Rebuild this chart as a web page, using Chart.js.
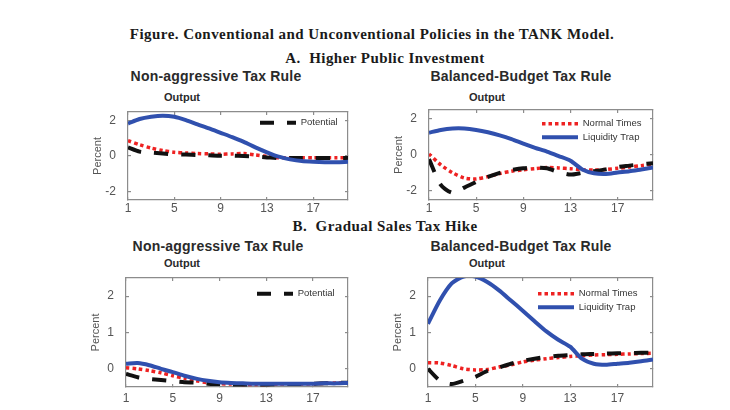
<!DOCTYPE html>
<html>
<head>
<meta charset="utf-8">
<script src="https://cdn.jsdelivr.net/npm/chart.js@4.4.0/dist/chart.umd.min.js"></script>
<style>
  html, body { margin: 0; padding: 0; background: #fff; }
  body { width: 730px; height: 410px; position: relative; overflow: hidden; }
  .t { position: absolute; transform: translate(-50%, -50%); white-space: nowrap; color: #1a1a1a; }
  .fig { font: bold 15px "Liberation Serif", serif; letter-spacing: 0.45px; }
  .sec { font: bold 15px "Liberation Serif", serif; letter-spacing: 0.45px; }
  .pt { font: bold 14px "Liberation Sans", Arial, sans-serif; color: #2a2a2a; letter-spacing: 0.2px; }
  .out { font: bold 11px "Liberation Sans", Arial, sans-serif; color: #2a2a2a; }
  .box { position: absolute; }
</style>
</head>
<body>
<div class="t fig" style="left:372px;top:34px">Figure. Conventional and Unconventional Policies in the TANK Model.</div>
<div class="t sec" style="left:385px;top:58px">A.&nbsp; Higher Public Investment</div>
<div class="t sec" style="left:385px;top:226px">B.&nbsp; Gradual Sales Tax Hike</div>

<div class="t pt" style="left:216px;top:76px">Non-aggressive Tax Rule</div>
<div class="t out" style="left:182px;top:97px">Output</div>
<div class="t pt" style="left:521px;top:76px">Balanced-Budget Tax Rule</div>
<div class="t out" style="left:487px;top:97px">Output</div>
<div class="t pt" style="left:218px;top:246px">Non-aggressive Tax Rule</div>
<div class="t out" style="left:182px;top:263px">Output</div>
<div class="t pt" style="left:521px;top:246px">Balanced-Budget Tax Rule</div>
<div class="t out" style="left:487px;top:263px">Output</div>

<div class="box" style="left:88px;top:108px;width:264px;height:114px"><canvas id="c1"></canvas></div>
<div class="box" style="left:389px;top:106px;width:268px;height:116px"><canvas id="c2"></canvas></div>
<div class="box" style="left:86px;top:274px;width:266px;height:135px"><canvas id="c3"></canvas></div>
<div class="box" style="left:388px;top:274px;width:269px;height:135px"><canvas id="c4"></canvas></div>

<script>
// quarters and ticks
const quarters = [1, 2, 3, 4, 5, 6, 7, 8, 9, 10, 11, 12, 13, 14, 15, 16, 17, 18, 19, 20];
const xTicks = [1, 5, 9, 13, 17];
const yTicksA = [-2, 0, 2];
const yTicksB = [0, 1, 2];

// A. Higher public investment, non-aggressive tax rule
const invNonTrap = [1.84, 2.1, 2.23, 2.29, 2.23, 2.04, 1.8, 1.57, 1.32, 1.07, 0.8, 0.49, 0.21, -0.04, -0.19, -0.29, -0.33, -0.35, -0.35, -0.33];
const invNonNormal = [0.87, 0.64, 0.45, 0.31, 0.21, 0.17, 0.14, 0.12, 0.1, 0.12, 0.14, 0.06, -0.02, -0.1, -0.1, -0.1, -0.1, -0.1, -0.1, -0.1];
const invNonPotential = [0.49, 0.25, 0.19, 0.14, 0.1, 0.08, 0.06, 0.04, 0.02, 0.02, 0, -0.04, -0.08, -0.12, -0.12, -0.12, -0.12, -0.12, -0.12, -0.12];

// A. Higher public investment, balanced-budget tax rule
const invBalTrap = [1.24, 1.39, 1.47, 1.47, 1.39, 1.26, 1.09, 0.88, 0.63, 0.4, 0.19, -0.06, -0.32, -0.8, -1.01, -1.05, -0.97, -0.9, -0.8, -0.7];
const invBalNormal = [0.06, -0.55, -0.99, -1.28, -1.33, -1.2, -1.03, -0.9, -0.82, -0.76, -0.7, -0.72, -0.76, -0.82, -0.84, -0.8, -0.74, -0.67, -0.59, -0.51];
const invBalPotential = [-0.23, -1.66, -2.1, -1.81, -1.5, -1.22, -0.99, -0.84, -0.74, -0.7, -0.74, -0.95, -1.09, -0.99, -0.9, -0.8, -0.67, -0.59, -0.51, -0.46];

// B. Gradual sales tax hike, non-aggressive tax rule
const taxNonTrap = [0.14, 0.16, 0.1, 0.0, -0.09, -0.19, -0.27, -0.33, -0.37, -0.39, -0.4, -0.41, -0.41, -0.41, -0.41, -0.41, -0.41, -0.4, -0.4, -0.39];
const taxNonNormal = [0.03, 0.0, -0.05, -0.11, -0.19, -0.26, -0.33, -0.38, -0.41, -0.42, -0.43, -0.43, -0.43, -0.42, -0.42, -0.42, -0.41, -0.4, -0.39, -0.38];
const taxNonPotential = [-0.14, -0.23, -0.28, -0.31, -0.34, -0.37, -0.38, -0.41, -0.42, -0.43, -0.43, -0.43, -0.43, -0.42, -0.42, -0.42, -0.41, -0.4, -0.39, -0.38];

// B. Gradual sales tax hike, balanced-budget tax rule
const taxBalTrap = [1.24, 1.88, 2.35, 2.54, 2.54, 2.39, 2.16, 1.88, 1.6, 1.31, 1.03, 0.8, 0.61, 0.28, 0.14, 0.11, 0.14, 0.17, 0.21, 0.26];
const taxBalNormal = [0.17, 0.16, 0.09, 0.0, -0.03, -0.02, 0.05, 0.11, 0.19, 0.24, 0.28, 0.31, 0.34, 0.36, 0.38, 0.39, 0.4, 0.41, 0.42, 0.43];
const taxBalPotential = [0.0, -0.32, -0.42, -0.33, -0.22, -0.06, 0.04, 0.14, 0.22, 0.28, 0.33, 0.36, 0.38, 0.4, 0.41, 0.42, 0.43, 0.43, 0.44, 0.44];

const RED = '#ee2222';
const BLUE = '#3050ae';
const BLACK = '#111111';
const FRAME = '#8c8c8c';

Chart.defaults.font.family = '"Liberation Sans", Arial, sans-serif';
Chart.defaults.color = '#555';

function series(vals) {
  return quarters.map((q, i) => ({ x: q, y: vals[i] }));
}

// move the legend to the upper right of the plot
const legendSpot = {
  id: 'legendSpot',
  beforeDraw(chart, args, opts) {
    const lg = chart.legend;
    if (!lg) return;
    lg.left = chart.chartArea.right - opts.dx;
    lg.top = chart.chartArea.top + opts.dy;
  }
};

function legendLabels(chart) {
  const items = Chart.defaults.plugins.legend.labels.generateLabels(chart);
  return items.map(it => {
    const ds = chart.data.datasets[it.datasetIndex];
    it.lineDash = ds.borderDash || [];
    it.lineWidth = ds.borderWidth;
    it.strokeStyle = ds.borderColor;
    it.lineCap = 'butt';
    return it;
  });
}

// axis with a gray border line and short inward tick marks
function boxAxis(extra) {
  return Object.assign({
    grid: { display: true, drawOnChartArea: false, drawTicks: true, tickLength: -3, color: FRAME, lineWidth: 1.2 },
    border: { display: true, color: FRAME, width: 1.2 }
  }, extra);
}

function makePanel(id, trap, normal, potential, cfg) {
  const yTickSet = s => { s.ticks = cfg.yTicks.map(v => ({ value: v })); };
  const xTickSet = s => { s.ticks = xTicks.map(v => ({ value: v })); };
  new Chart(document.getElementById(id), {
    type: 'line',
    data: {
      datasets: [
        { label: 'Normal Times', data: series(normal), borderColor: RED, borderWidth: 3.5, borderDash: [3.5, 3], order: 3 },
        { label: 'Liquidity Trap', data: series(trap), borderColor: BLUE, borderWidth: 4, order: 1 },
        { label: 'Potential', data: series(potential), borderColor: BLACK, borderWidth: 4, borderDash: [14, 13], order: 2 }
      ]
    },
    options: {
      responsive: true,
      maintainAspectRatio: false,
      animation: false,
      layout: { autoPadding: false, padding: { top: 4, right: 4, left: 0, bottom: 0 } },
      elements: { point: { radius: 0 }, line: { tension: 0.25, borderCapStyle: 'butt' } },
      scales: {
        x: boxAxis({
          type: 'linear', min: 1, max: 20, position: 'bottom',
          ticks: { padding: cfg.xPad + 3, font: { size: 12 }, color: '#555', maxRotation: 0 },
          afterBuildTicks: xTickSet,
          afterFit: s => { s.height = 22; s.paddingLeft = 0; s.paddingRight = 0; }
        }),
        x2: boxAxis({
          type: 'linear', min: 1, max: 20, position: 'top',
          ticks: { display: false },
          afterBuildTicks: xTickSet,
          afterFit: s => { s.height = 0; s.paddingLeft = 0; s.paddingRight = 0; }
        }),
        y: boxAxis({
          min: cfg.yMin, max: cfg.yMax, position: 'left',
          ticks: { padding: 15, font: { size: 12 }, color: '#555' },
          afterBuildTicks: yTickSet,
          afterFit: s => { s.width = 40; s.paddingTop = 0; s.paddingBottom = 0; },
          title: { display: true, text: 'Percent', font: { size: 11 }, color: '#555', padding: { top: 3, bottom: 3 } }
        }),
        y2: boxAxis({
          min: cfg.yMin, max: cfg.yMax, position: 'right',
          ticks: { display: false },
          afterBuildTicks: yTickSet,
          afterFit: s => { s.width = 0; s.paddingTop = 0; s.paddingBottom = 0; }
        })
      },
      plugins: {
        tooltip: { enabled: false },
        legend: {
          position: 'chartArea',
          fullSize: false,
          align: 'start',
          labels: {
            usePointStyle: true,
            pointStyle: 'line',
            pointStyleWidth: 36,
            padding: 4,
            color: '#333',
            font: { size: 9.5 },
            generateLabels: legendLabels,
            filter: item => cfg.legend.includes(item.text),
            sort: (a, b) => a.datasetIndex - b.datasetIndex
          }
        },
        legendSpot: { dx: cfg.dx, dy: cfg.dy }
      }
    },
    plugins: [legendSpot]
  });
}

makePanel('c1', invNonTrap, invNonNormal, invNonPotential,
  { yMin: -2.5, yMax: 2.5, yTicks: yTicksA, xPad: 1, legend: ['Potential'], dx: 92, dy: 2 });
makePanel('c2', invBalTrap, invBalNormal, invBalPotential,
  { yMin: -2.5, yMax: 2.5, yTicks: yTicksA, xPad: 1, legend: ['Normal Times', 'Liquidity Trap'], dx: 115, dy: 5 });
makePanel('c3', taxNonTrap, taxNonNormal, taxNonPotential,
  { yMin: -0.5, yMax: 2.5, yTicks: yTicksB, xPad: 4, legend: ['Potential'], dx: 95, dy: 7 });
makePanel('c4', taxBalTrap, taxBalNormal, taxBalPotential,
  { yMin: -0.5, yMax: 2.5, yTicks: yTicksB, xPad: 4, legend: ['Normal Times', 'Liquidity Trap'], dx: 119, dy: 7 });
</script>
</body>
</html>
